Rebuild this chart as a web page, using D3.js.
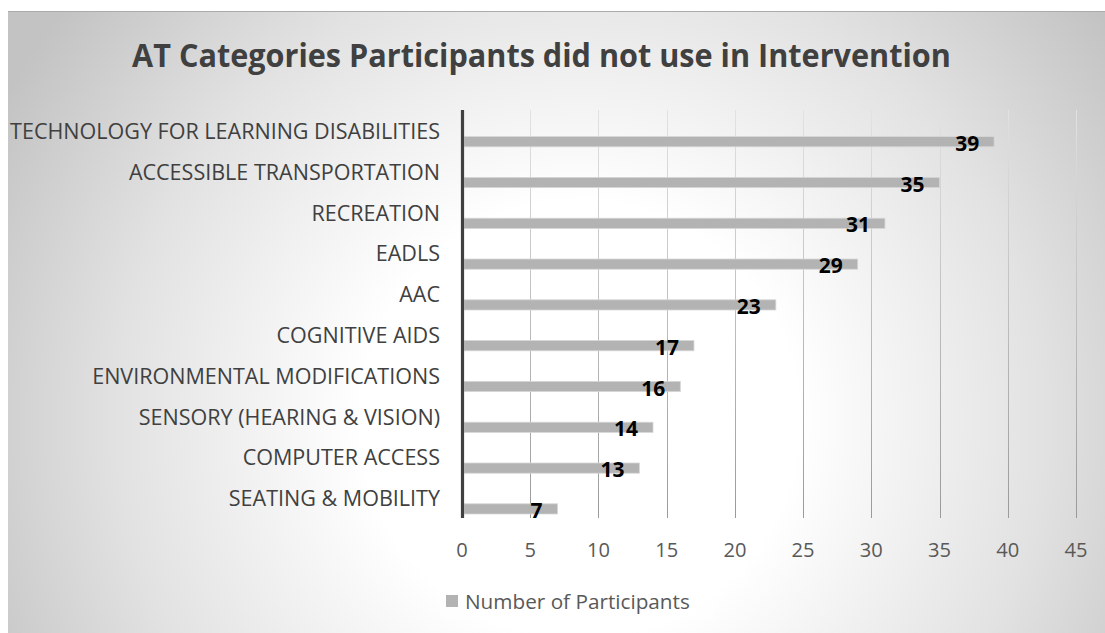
<!DOCTYPE html>
<html>
<head>
<meta charset="utf-8">
<script src="https://cdn.jsdelivr.net/npm/d3@7"></script>
<style>
  html, body { margin: 0; padding: 0; background: #ffffff; }
  svg { display: block; }
</style>
</head>
<body>
<svg id="chart" width="1105" height="633"></svg>
<script>
// Categories (top to bottom) and participant counts
const categories = [
  "TECHNOLOGY FOR LEARNING DISABILITIES",
  "ACCESSIBLE TRANSPORTATION",
  "RECREATION",
  "EADLS",
  "AAC",
  "COGNITIVE AIDS",
  "ENVIRONMENTAL MODIFICATIONS",
  "SENSORY (HEARING & VISION)",
  "COMPUTER ACCESS",
  "SEATING & MOBILITY"
];
const participants = [39, 35, 31, 29, 23, 17, 16, 14, 13, 7];
const xTicks = [0, 5, 10, 15, 20, 25, 30, 35, 40, 45];
const seriesName = "Number of Participants";
const titleText = "AT Categories Participants did not use in Intervention";

const W = 1105, H = 633;
const FONT = "'Open Sans', 'Noto Sans', sans-serif";
const svg = d3.select("#chart");
const defs = svg.append("defs");

// Chart-area background: soft radial gradient, white centre fading to grey
const bg = defs.append("radialGradient")
  .attr("id", "bgGrad")
  .attr("gradientUnits", "userSpaceOnUse")
  .attr("cx", 580).attr("cy", 420).attr("r", 660);
bg.append("stop").attr("offset", 0).attr("stop-color", "#ffffff");
bg.append("stop").attr("offset", 0.33).attr("stop-color", "#ffffff");
bg.append("stop").attr("offset", 0.7).attr("stop-color", "#e2e2e2");
bg.append("stop").attr("offset", 1).attr("stop-color", "#c3c3c3");

svg.append("rect")
  .attr("x", 8).attr("y", 11).attr("width", W - 8).attr("height", H - 11)
  .attr("fill", "url(#bgGrad)");
svg.append("line")
  .attr("x1", 8).attr("x2", W).attr("y1", 11.5).attr("y2", 11.5)
  .attr("stroke", "#ababab").attr("stroke-width", 1);

// Plot geometry
const plot = { left: 462, right: 1076, top: 110, bottom: 518 };

const x = d3.scaleLinear().domain([0, 45]).range([plot.left, plot.right]);
const y = d3.scaleBand().domain(categories).range([plot.top, plot.bottom]).paddingInner(0).paddingOuter(0);
const bw = y.bandwidth();

// Gridlines get darker towards the bottom of the plot
const gg = defs.append("linearGradient")
  .attr("id", "gridGrad")
  .attr("gradientUnits", "userSpaceOnUse")
  .attr("x1", 0).attr("x2", 0).attr("y1", plot.top).attr("y2", plot.bottom);
gg.append("stop").attr("offset", 0).attr("stop-color", "#e2e2e2");
gg.append("stop").attr("offset", 1).attr("stop-color", "#9a9a9a");

svg.append("g")
  .selectAll("line")
  .data(xTicks.filter(d => d > 0))
  .join("line")
  .attr("x1", d => Math.round(x(d)) + 0.5)
  .attr("x2", d => Math.round(x(d)) + 0.5)
  .attr("y1", plot.top).attr("y2", plot.bottom)
  .attr("stroke", "url(#gridGrad)")
  .attr("stroke-width", 1);

// Bars
svg.append("g")
  .selectAll("rect")
  .data(categories)
  .join("rect")
  .attr("x", x(0) + 2)
  .attr("y", (d) => y(d) + bw * 0.652)
  .attr("width", (d, i) => x(participants[i]) - x(0) - 2)
  .attr("height", bw * 0.25)
  .attr("fill", "#b3b3b3")
  .attr("stroke", "#d6d6d6")
  .attr("stroke-width", 0.8);

// Category axis line
svg.append("line")
  .attr("x1", x(0) + 0.5).attr("x2", x(0) + 0.5)
  .attr("y1", plot.top).attr("y2", plot.bottom)
  .attr("stroke", "#404040").attr("stroke-width", 3.2);

// Size a text selection so its widest element spans the given width
function fitWidth(sel, target) {
  let maxW = 0;
  sel.each(function () { maxW = Math.max(maxW, this.getComputedTextLength()); });
  const base = parseFloat(sel.attr("font-size"));
  sel.attr("font-size", (base * target / maxW).toFixed(2));
}

// Keep the font size, squeeze horizontally so the widest element spans the width.
// Each text is placed through a transform anchored at (ax, ay).
function condense(sel, target, ax, ay) {
  let maxW = 0;
  sel.each(function () { maxW = Math.max(maxW, this.getComputedTextLength()); });
  const sx = target / maxW;
  sel.attr("x", 0).attr("y", 0)
    .attr("transform", (d, i) => `translate(${ax(d, i)},${ay(d, i)}) scale(${sx},1)`);
}

// Category labels
const catLabels = svg.append("g")
  .selectAll("text")
  .data(categories)
  .join("text")
  .attr("x", 440)
  .attr("y", d => y(d) + bw / 2)
  .attr("text-anchor", "end")
  .attr("dominant-baseline", "central")
  .attr("font-family", FONT)
  .attr("font-size", 18)
  .attr("fill", "#404040")
  .text(d => d);
fitWidth(catLabels, 430);

// Value axis tick labels
const tickLabels = svg.append("g")
  .selectAll("text")
  .data(xTicks)
  .join("text")
  .attr("x", d => x(d))
  .attr("y", 549)
  .attr("text-anchor", "middle")
  .attr("dominant-baseline", "central")
  .attr("font-family", FONT)
  .attr("font-size", 18)
  .attr("fill", "#595959")
  .text(d => d);
fitWidth(tickLabels, 23);

// Data labels (inside end of each bar)
const valLabels = svg.append("g")
  .selectAll("text")
  .data(participants)
  .join("text")
  .attr("x", d => x(d) - 15)
  .attr("y", (d, i) => y(categories[i]) + bw * 0.777 + 1)
  .attr("text-anchor", "end")
  .attr("dominant-baseline", "central")
  .attr("font-family", FONT)
  .attr("font-weight", "bold")
  .attr("font-size", 20)
  .attr("fill", "#000000")
  .text(d => d);
fitWidth(valLabels, 24);

// Title
const title = svg.append("text")
  .attr("text-anchor", "middle")
  .attr("dominant-baseline", "central")
  .attr("font-family", FONT)
  .attr("font-weight", "bold")
  .attr("font-size", 33)
  .attr("fill", "#404040")
  .text(titleText);
condense(title, 819, () => 541.5, () => 54);

// Legend
const legend = svg.append("g");
legend.append("rect")
  .attr("x", 440).attr("y", 582).attr("width", 275).attr("height", 38)
  .attr("fill", "#ffffff").attr("opacity", 0.35);
legend.append("rect")
  .attr("x", 446).attr("y", 595).attr("width", 12).attr("height", 12)
  .attr("fill", "#b3b3b3");
const legText = legend.append("text")
  .attr("x", 465).attr("y", 601)
  .attr("dominant-baseline", "central")
  .attr("font-family", FONT)
  .attr("font-size", 18)
  .attr("fill", "#595959")
  .text(seriesName);
fitWidth(legText, 225);
</script>
</body>
</html>
